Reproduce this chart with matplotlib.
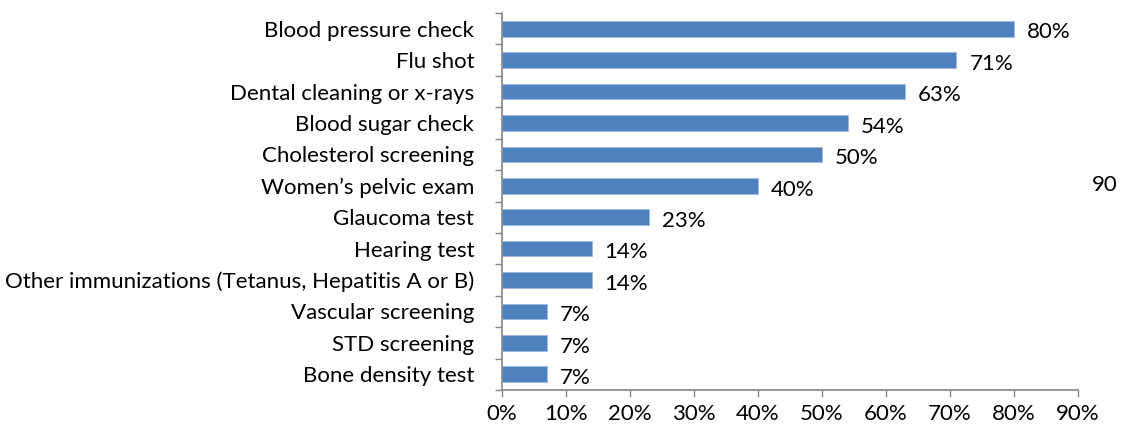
import numpy as np
import matplotlib.pyplot as plt
from matplotlib.ticker import FixedLocator

plt.rcParams['font.family'] = ['Lato', 'DejaVu Sans']

services = ["Blood pressure check", "Flu shot", "Dental cleaning or x-rays",
            "Blood sugar check", "Cholesterol screening", "Women\u2019s pelvic exam",
            "Glaucoma test", "Hearing test",
            "Other immunizations (Tetanus, Hepatitis A or B)",
            "Vascular screening", "STD screening", "Bone density test"]
pct = [80, 71, 63, 54, 50, 40, 23, 14, 14, 7, 7, 7]
xticks = list(range(0, 100, 10))

fig = plt.figure(figsize=(11.23, 4.28), dpi=100)
ax = fig.add_axes([0.447, 0.0888, 0.513, 0.8808])

y = np.arange(len(services))
ax.barh(y, pct, height=0.5, color="#4F81BD", edgecolor="#9DB8DB", linewidth=0.6)

for yi, v in zip(y, pct):
    ax.text(v + 2.0, yi + 0.12, f"{v}%", va="center", ha="left", fontsize=16)

ax.set_xlim(0, 90)
ax.set_ylim(len(services) - 0.5, -0.5)
ax.set_xticks(xticks)
ax.set_xticklabels([f"{t}%" for t in xticks], fontsize=16)
ax.set_yticks(y)
ax.set_yticklabels(services, fontsize=16)
ax.yaxis.set_minor_locator(FixedLocator(np.arange(-0.5, len(services), 1)))
ax.tick_params(axis="y", which="major", length=0, pad=20)
ax.tick_params(axis="y", which="minor", length=5, color="#868686", width=1)
ax.tick_params(axis="x", length=5, color="#868686", width=1, pad=5)

for side in ("top", "right"):
    ax.spines[side].set_visible(False)
for side in ("left", "bottom"):
    ax.spines[side].set_color("#868686")
    ax.spines[side].set_linewidth(1.2)

fig.text(0.984, 0.567, "90", ha="center", va="center", fontsize=16)

fig.savefig("out.png", dpi=100)
